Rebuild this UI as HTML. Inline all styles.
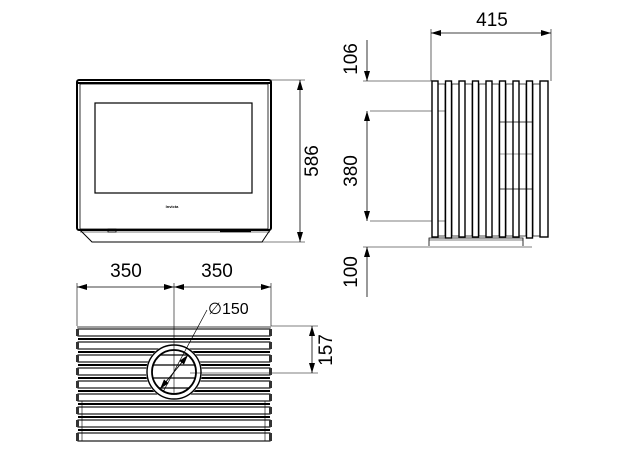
<!DOCTYPE html>
<html><head><style>html,body{margin:0;padding:0;background:#fff}svg{display:block}text{font-family:"Liberation Sans",sans-serif;fill:#000}</style></head>
<body>
<svg width="624" height="460" viewBox="0 0 624 460" xmlns="http://www.w3.org/2000/svg">
<defs>
<marker id="a" viewBox="0 0 10 6" refX="10" refY="3" markerWidth="10" markerHeight="6" orient="auto-start-reverse" markerUnits="userSpaceOnUse"><path d="M0,0L10,3L0,6z" fill="#000"/></marker>
<clipPath id="nocirc"><path d="M0,0H624V460H0z M174,372m-28,0a28,28 0 1,0 56,0a28,28 0 1,0 -56,0z" clip-rule="evenodd"/></clipPath>
<clipPath id="incirc"><circle cx="174" cy="372" r="22"/></clipPath>
</defs>
<g fill="none" stroke="#000">
<!-- front view -->
<rect x="77" y="80" width="194" height="150" rx="2" stroke-width="2"/>
<line x1="78" y1="83" x2="270" y2="83" stroke-width="2"/>
<rect x="80" y="84" width="188" height="145" stroke-width="0.8"/>
<rect x="95" y="103" width="157" height="90" stroke-width="1.2"/>
<path d="M80,230L92,242H262L270,230" stroke-width="1"/>
<line x1="80" y1="232" x2="270" y2="232" stroke-width="0.6"/>
<rect x="108" y="229" width="8" height="3" stroke-width="0.8"/>
<line x1="220" y1="231" x2="251" y2="231" stroke-width="2.5"/>
<line x1="271" y1="80" x2="305" y2="80" stroke-width="0.6"/>
<line x1="262" y1="242" x2="305" y2="242" stroke-width="0.6"/>
<line x1="300" y1="80" x2="300" y2="242" stroke-width="0.8" marker-start="url(#a)" marker-end="url(#a)"/>
<!-- side view -->
<line x1="431" y1="29" x2="431" y2="81" stroke-width="0.6"/>
<line x1="551" y1="29" x2="551" y2="81" stroke-width="0.6"/>
<line x1="431" y1="33" x2="551" y2="33" stroke-width="0.8" marker-start="url(#a)" marker-end="url(#a)"/>
<line x1="363" y1="81" x2="433" y2="81" stroke-width="0.6"/>
<line x1="370" y1="111" x2="445" y2="111" stroke-width="0.6"/>
<line x1="370" y1="221" x2="445" y2="221" stroke-width="0.6"/>
<line x1="363" y1="247" x2="532" y2="247" stroke-width="0.6"/>
<line x1="367" y1="40" x2="367" y2="81" stroke-width="0.8" marker-end="url(#a)"/>
<line x1="367" y1="111" x2="367" y2="221" stroke-width="0.8" marker-start="url(#a)" marker-end="url(#a)"/>
<line x1="367" y1="247" x2="367" y2="297" stroke-width="0.8" marker-start="url(#a)"/>
<g stroke-width="0.7">
<rect x="438" y="84" width="7" height="152"/>
<rect x="452" y="84" width="7" height="152"/>
<rect x="465" y="84" width="7" height="152"/>
<rect x="479" y="84" width="7" height="152"/>
<rect x="492" y="84" width="7" height="152"/>
<rect x="506" y="84" width="7" height="152"/>
<rect x="519" y="84" width="7" height="152"/>
<rect x="533" y="84" width="7" height="152"/>
</g>
<g stroke-width="1.4" fill="#fff">
<rect x="432" y="81" width="6" height="156"/>
<rect x="445.5" y="81" width="6" height="157"/>
<rect x="459" y="81" width="6" height="156"/>
<rect x="472.5" y="81" width="6" height="156"/>
<rect x="486" y="81" width="6" height="156"/>
<rect x="499.5" y="81" width="6" height="156"/>
<rect x="513" y="81" width="6" height="156"/>
<rect x="526.5" y="81" width="6" height="157"/>
<rect x="540" y="81" width="8" height="156"/>
</g>
<g stroke-width="0.8">
<line x1="499.5" y1="122" x2="533" y2="122"/><line x1="499.5" y1="189" x2="533" y2="189"/>
<line x1="499.5" y1="154" x2="533" y2="154" stroke-width="0.4"/>
</g>
<path d="M429,246V238H523V246" stroke-width="0.8"/>
<line x1="429" y1="240" x2="523" y2="240" stroke-width="0.6"/>
<!-- top view -->
<line x1="77" y1="283" x2="77" y2="326" stroke-width="0.6"/>
<line x1="271" y1="283" x2="271" y2="326" stroke-width="0.6"/>
<line x1="174" y1="283" x2="174" y2="395" stroke-width="0.6"/>
<line x1="77" y1="287" x2="174" y2="287" stroke-width="0.8" marker-start="url(#a)" marker-end="url(#a)"/>
<line x1="174" y1="287" x2="271" y2="287" stroke-width="0.8" marker-start="url(#a)" marker-end="url(#a)"/>
<line x1="271" y1="326" x2="318" y2="326" stroke-width="0.6"/>
<line x1="190" y1="373" x2="318" y2="373" stroke-width="0.6"/>
<line x1="312" y1="326" x2="312" y2="373" stroke-width="0.8" marker-start="url(#a)" marker-end="url(#a)"/>
<line x1="77" y1="327" x2="271" y2="327" stroke-width="0.8"/>
<g clip-path="url(#nocirc)" stroke-width="1.1">
<rect x="78" y="329" width="192" height="7"/>
<rect x="78" y="342" width="192" height="7"/>
<rect x="78" y="355" width="192" height="7"/>
<rect x="78" y="368" width="192" height="7"/>
<rect x="78" y="381" width="192" height="7"/>
<rect x="78" y="394" width="192" height="7"/>
<rect x="78" y="407" width="192" height="7"/>
<rect x="78" y="420" width="192" height="7"/>
<rect x="78" y="433" width="192" height="8"/>
</g>
<g stroke-width="2" clip-path="url(#nocirc)">
<line x1="78" y1="339" x2="270" y2="339"/><line x1="78" y1="352" x2="270" y2="352"/>
<line x1="78" y1="365" x2="270" y2="365"/><line x1="78" y1="378" x2="270" y2="378"/>
<line x1="78" y1="391" x2="270" y2="391"/><line x1="78" y1="404" x2="270" y2="404"/>
<line x1="78" y1="417" x2="270" y2="417"/><line x1="78" y1="430" x2="270" y2="430"/>
</g>
<line x1="82" y1="401" x2="82" y2="441" stroke-width="0.6"/>
<line x1="265" y1="401" x2="265" y2="441" stroke-width="0.6"/>
<g clip-path="url(#incirc)" stroke-width="1.3">
<line x1="150" y1="355" x2="200" y2="355"/><line x1="150" y1="365" x2="200" y2="365"/>
<line x1="150" y1="378" x2="200" y2="378"/><line x1="150" y1="388" x2="200" y2="388"/>
</g>
<circle cx="174" cy="372" r="22" stroke-width="1.8"/>
<circle cx="174" cy="372" r="27" stroke-width="1.4"/>
<g fill="#333" stroke="none">
<rect x="76" y="329" width="3" height="7"/><rect x="76" y="342" width="3" height="7"/><rect x="76" y="355" width="3" height="7"/><rect x="76" y="368" width="3" height="7"/><rect x="76" y="381" width="3" height="7"/><rect x="76" y="394" width="3" height="7"/><rect x="76" y="407" width="3" height="7"/><rect x="76" y="420" width="3" height="7"/><rect x="76" y="433" width="3" height="8"/>
<rect x="269" y="329" width="3" height="7"/><rect x="269" y="342" width="3" height="7"/><rect x="269" y="355" width="3" height="7"/><rect x="269" y="368" width="3" height="7"/><rect x="269" y="381" width="3" height="7"/><rect x="269" y="394" width="3" height="7"/><rect x="269" y="407" width="3" height="7"/><rect x="269" y="420" width="3" height="7"/><rect x="269" y="433" width="3" height="8"/>
</g>
<line x1="207" y1="310" x2="163" y2="392" stroke-width="0.7"/>
<line x1="188" y1="355" x2="160" y2="389" stroke-width="0.9" marker-start="url(#a)" marker-end="url(#a)"/>
</g>
<text x="172" y="208" font-size="4" text-anchor="middle" font-weight="bold">Invicta</text>
<text transform="translate(318,161) rotate(-90)" font-size="19" text-anchor="middle">586</text>
<text x="492" y="26" font-size="19" text-anchor="middle">415</text>
<text transform="translate(357,59) rotate(-90)" font-size="19" text-anchor="middle">106</text>
<text transform="translate(357,171) rotate(-90)" font-size="19" text-anchor="middle">380</text>
<text transform="translate(357,272) rotate(-90)" font-size="19" text-anchor="middle">100</text>
<text x="126" y="277" font-size="19" text-anchor="middle">350</text>
<text x="217" y="277" font-size="19" text-anchor="middle">350</text>
<text x="208" y="314" font-size="16">∅150</text>
<text transform="translate(332,350) rotate(-90)" font-size="19" text-anchor="middle">157</text>
</svg>
</body></html>
